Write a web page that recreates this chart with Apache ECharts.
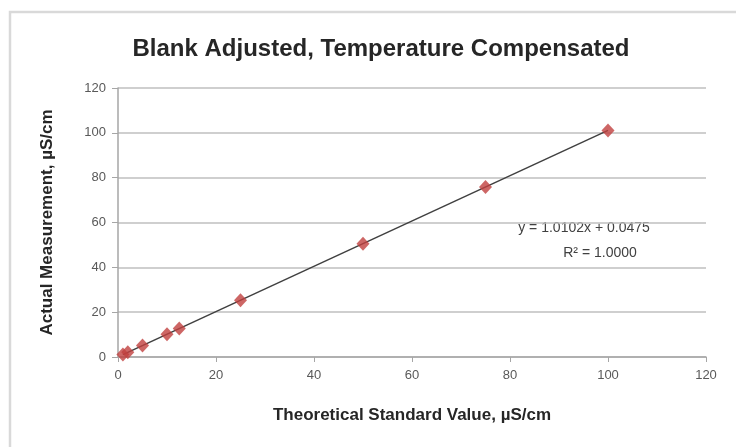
<!DOCTYPE html>
<html lang="en">
<head>
    <meta charset="UTF-8">
    <title>Blank Adjusted, Temperature Compensated</title>
    <script src="https://cdn.jsdelivr.net/npm/echarts@6/dist/echarts.min.js"></script>
    <style>
        html, body { margin: 0; padding: 0; background: #fff; }
        #chart { width: 736px; height: 447px; }
    </style>
</head>
<body>
    <div id="chart"></div>
<script>
    // theoretical standard values (x) and measured values (y)
    var stdValues = [1, 2, 5, 10, 12.5, 25, 50, 75, 100];
    var measured = [1.06, 2.07, 5.1, 10.15, 12.67, 25.3, 50.56, 75.81, 101.07];
    var xTicks = [0, 20, 40, 60, 80, 100, 120];
    var yTicks = [0, 20, 40, 60, 80, 100, 120];
    // linear trendline
    var trendSlope = 1.0102;
    var trendIntercept = 0.0475;
    var rSquared = '1.0000';

    var points = stdValues.map(function (x, i) { return [x, measured[i]]; });
    var xMin = Math.min.apply(null, stdValues);
    var xMax = Math.max.apply(null, stdValues);
    var trend = [xMin, xMax].map(function (x) { return [x, trendSlope * x + trendIntercept]; });

    var font = "'Liberation Sans', Arial, sans-serif";
    var chart = echarts.init(document.getElementById('chart'));
    chart.setOption({
        animation: false,
        title: {
            text: 'Blank Adjusted, Temperature Compensated',
            left: 376,
            textAlign: 'center',
            top: 32,
            textStyle: { fontFamily: font, fontSize: 24, fontWeight: 'bold', color: '#262626' }
        },
        graphic: [{
            type: 'rect',
            shape: { x: 10, y: 12, width: 760, height: 470 },
            style: { fill: 'none', stroke: '#d9d9d9', lineWidth: 2.5 },
            silent: true
        }, {
            type: 'text',
            x: 584,
            y: 228,
            style: {
                text: 'y = ' + trendSlope + 'x + ' + trendIntercept,
                font: '14px ' + font, fill: '#404040',
                align: 'center', verticalAlign: 'middle'
            }
        }, {
            type: 'text',
            x: 600,
            y: 253,
            style: {
                text: 'R\u00b2 = ' + rSquared,
                font: '14px ' + font, fill: '#404040',
                align: 'center', verticalAlign: 'middle'
            }
        }],
        grid: { left: 118, right: 30, top: 88, bottom: 90 },
        xAxis: {
            type: 'value',
            min: xTicks[0],
            max: xTicks[xTicks.length - 1],
            interval: 20,
            name: 'Theoretical Standard Value, \u00b5S/cm',
            nameLocation: 'middle',
            nameGap: 50,
            nameTextStyle: { fontFamily: font, fontSize: 17, fontWeight: 'bold', color: '#262626' },
            axisLine: { lineStyle: { color: '#a6a6a6', width: 1.5 } },
            axisTick: { show: true, length: 5, lineStyle: { color: '#a6a6a6' } },
            axisLabel: { fontFamily: font, fontSize: 13, color: '#595959', margin: 12 },
            splitLine: { show: false }
        },
        yAxis: {
            type: 'value',
            min: yTicks[0],
            max: yTicks[yTicks.length - 1],
            interval: 20,
            name: 'Actual Measurement, \u00b5S/cm',
            nameLocation: 'middle',
            nameRotate: 90,
            nameGap: 62,
            nameTextStyle: { fontFamily: font, fontSize: 17, fontWeight: 'bold', color: '#262626' },
            axisLine: { show: true, lineStyle: { color: '#a6a6a6', width: 1.5 } },
            axisTick: { show: true, length: 6, lineStyle: { color: '#a6a6a6' } },
            axisLabel: { fontFamily: font, fontSize: 13, color: '#595959', margin: 12 },
            splitLine: { lineStyle: { color: '#bfbfbf', width: 1.5 } }
        },
        series: [{
            type: 'line',
            data: trend,
            symbol: 'none',
            lineStyle: { color: '#404040', width: 1.5 },
            z: 2
        }, {
            type: 'scatter',
            data: points,
            symbol: 'diamond',
            symbolSize: [13, 14],
            itemStyle: { color: '#c0403f' },
            z: 3
        }]
    });
</script>
</body>
</html>
